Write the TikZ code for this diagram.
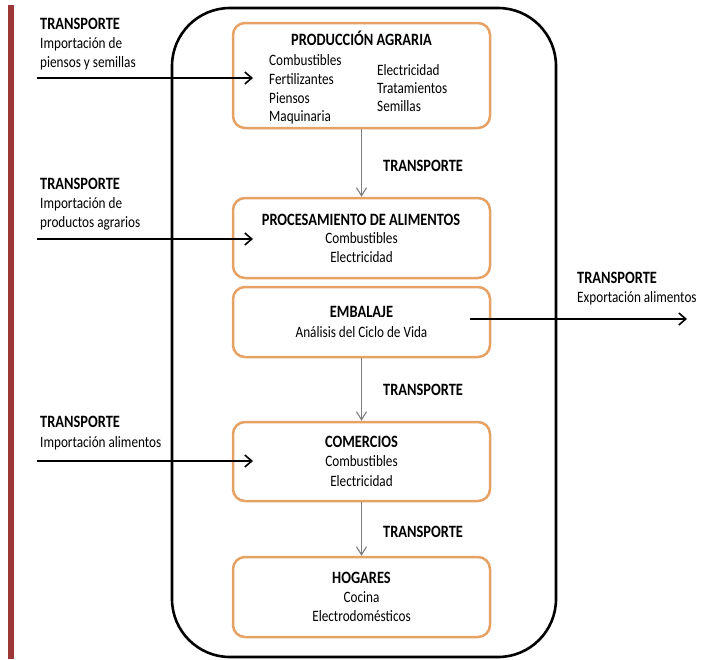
\documentclass[tikz,border=0pt]{standalone}
\usepackage{fontspec}
\setmainfont{Carlito}
\usepackage{graphicx}
\usetikzlibrary{arrows.meta}
\definecolor{boxorange}{RGB}{230,162,100}
\definecolor{barred}{RGB}{155,55,55}
\definecolor{arrgray}{RGB}{125,125,125}
\newcommand{\vst}[1]{\scalebox{1}[1.2]{#1}}
\begin{document}
\begin{tikzpicture}[x=1pt,y=-1pt,
  stage/.style={draw=boxorange, line width=2.5pt, rounded corners=12pt, minimum width=257pt, inner sep=0pt},
  frame/.style={draw=black, line width=2.6pt, rounded corners=58pt, minimum width=384pt, minimum height=649pt, inner sep=0pt},
  ttl/.style={font=\fontsize{14.4}{17}\selectfont\bfseries, inner sep=0pt, anchor=base},
  txt/.style={font=\fontsize{13.2}{16}\selectfont, inner sep=0pt, anchor=base},
  ttlw/.style={ttl, anchor=base west},
  txtw/.style={txt, anchor=base west},
  flow/.style={draw=arrgray, line width=1.1pt, -{Straight Barb[length=8pt,width=10pt,line width=1.1pt]}},
  inflow/.style={draw=black, line width=1.6pt, -{Straight Barb[length=7pt,width=12pt,line width=1.6pt]}}
]
\useasboundingbox (0,0) rectangle (706,659);
% red bar
\fill[barred] (8,5) rectangle (14,659);
% big frame
\node[frame] (frame) at (364,332.5) {};
% stages
\node[stage, minimum height=105pt] (prod) at (361.5,75.5) {};
\node[stage, minimum height=80pt] (proc) at (361.5,238) {};
\node[stage, minimum height=70pt] (emb) at (361.5,322) {};
\node[stage, minimum height=79pt] (com) at (361.5,461.5) {};
\node[stage, minimum height=80pt] (hog) at (361.5,597) {};
% stage texts
\node[ttl] (prodT) at (361.5,45) {\vst{PRODUCCIÓN AGRARIA}};
\node[txtw] (p1) at (269,65.7) {\vst{Combustibles}};
\node[txtw] (p2) at (269,84) {\vst{Fertilizantes}};
\node[txtw] (p3) at (269,103) {\vst{Piensos}};
\node[txtw] (p4) at (269,121.7) {\vst{Maquinaria}};
\node[txtw] (p5) at (377,75) {\vst{Electricidad}};
\node[txtw] (p6) at (377,93.3) {\vst{Tratamientos}};
\node[txtw] (p7) at (377,111.7) {\vst{Semillas}};
\node[ttl] (procT) at (361,225) {\vst{PROCESAMIENTO DE ALIMENTOS}};
\node[txt] (pr1) at (361.5,243.3) {\vst{Combustibles}};
\node[txt] (pr2) at (361.5,262.7) {\vst{Electricidad}};
\node[ttl] (embT) at (361.5,317.3) {\vst{EMBALAJE}};
\node[txt] (e1) at (361.5,337.3) {\vst{Análisis del Ciclo de Vida}};
\node[ttl] (comT) at (361.5,447.3) {\vst{COMERCIOS}};
\node[txt] (c1) at (361.5,466.7) {\vst{Combustibles}};
\node[txt] (c2) at (361.5,486) {\vst{Electricidad}};
\node[ttl] (hogT) at (361.5,583.3) {\vst{HOGARES}};
\node[txt] (h1) at (361.5,602.3) {\vst{Cocina}};
\node[txt] (h2) at (361.5,621.7) {\vst{Electrodomésticos}};
% internal flows
\draw[flow] (prod.south) -- (proc.north);
\draw[flow] (emb.south) -- (com.north);
\draw[flow] (com.south) -- (hog.north);
\node[ttlw] (t1) at (383,171.7) {\vst{TRANSPORTE}};
\node[ttlw] (t2) at (383,395) {\vst{TRANSPORTE}};
\node[ttlw] (t3) at (383,537.3) {\vst{TRANSPORTE}};
% left inputs
\node[ttlw] (la1) at (40,29) {\vst{TRANSPORTE}};
\node[txtw] (la2) at (40,48.5) {\vst{Importación de}};
\node[txtw] (la3) at (40,67) {\vst{piensos y semillas}};
\coordinate (inA) at (37,78);
\coordinate (tipA) at (253,78);
\draw[inflow] (inA) -- (tipA);
\node[ttlw] (lb1) at (40,189) {\vst{TRANSPORTE}};
\node[txtw] (lb2) at (40,208.5) {\vst{Importación de}};
\node[txtw] (lb3) at (40,227) {\vst{productos agrarios}};
\coordinate (inB) at (37,239);
\coordinate (tipB) at (253,239);
\draw[inflow] (inB) -- (tipB);
\node[ttlw] (lc1) at (40,427) {\vst{TRANSPORTE}};
\node[txtw] (lc2) at (40,447) {\vst{Importación alimentos}};
\coordinate (inC) at (37,461);
\coordinate (tipC) at (253,461);
\draw[inflow] (inC) -- (tipC);
% right output
\node[ttlw] (r1) at (577,283) {\vst{TRANSPORTE}};
\node[txtw] (r2) at (577,302.5) {\vst{Exportación alimentos}};
\coordinate (outS) at (470,319);
\coordinate (outE) at (687,319);
\draw[inflow] (outS) -- (outE);
\end{tikzpicture}
\end{document}
